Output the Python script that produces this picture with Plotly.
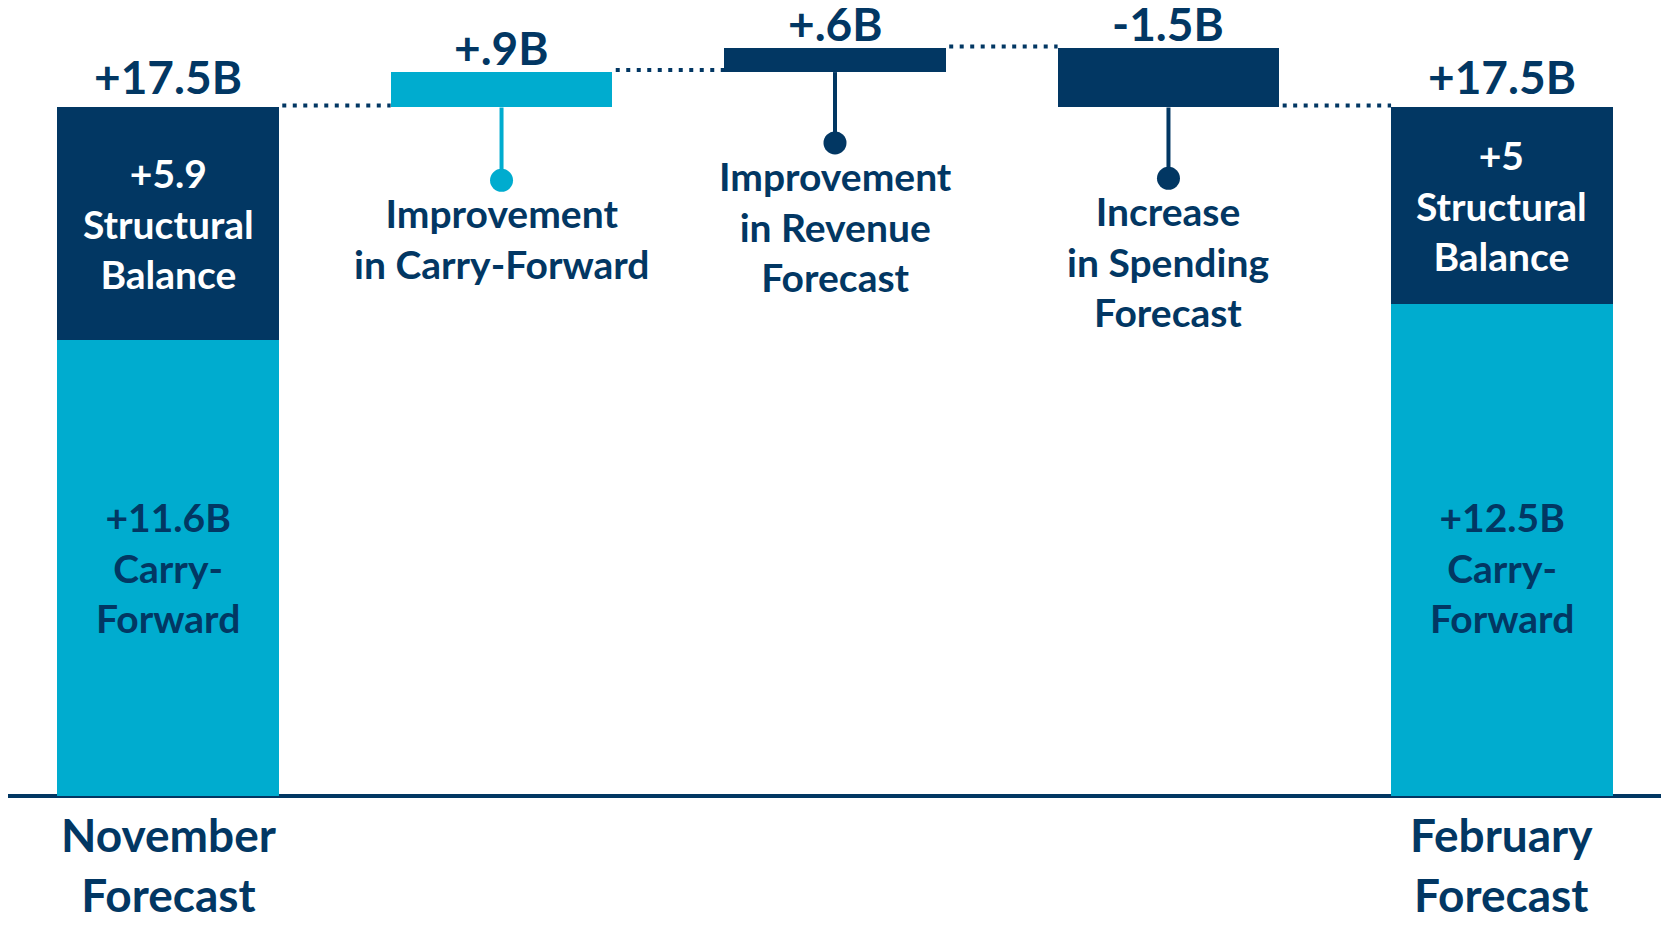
import plotly.graph_objects as go

# ---------------- data ----------------
totals_labels = ["November<br>Forecast", "February<br>Forecast"]
carry_forward = [11.6, 12.5]
structural = [5.9, 5.0]
total_text = ["+17.5B", "+17.5B"]
structural_text = ["+5.9<br>Structural<br>Balance", "+5<br>Structural<br>Balance"]
carry_text = ["+11.6B<br>Carry-<br>Forward", "+12.5B<br>Carry-<br>Forward"]

change_labels = ["Improvement<br>in Carry-Forward",
                 "Improvement<br>in Revenue<br>Forecast",
                 "Increase<br>in Spending<br>Forecast"]
changes = [0.9, 0.6, -1.5]
change_text = ["+.9B", "+.6B", "-1.5B"]

# ---------------- style ----------------
NAVY = "#023763"
CYAN = "#00ACCF"
FONT = "Lato"
change_colors = [CYAN, NAVY, NAVY]
stem_len = [1.85, 1.8, 1.8]
BAR_W = 0.665
BODY = 39
VAL = 46

total_x = [0, 4]
change_x = [1, 2, 3]

start = carry_forward[0] + structural[0]
bases = []
cur = start
for c in changes:
    bases.append(cur)
    cur += c

fig = go.Figure()

fig.add_trace(go.Bar(x=total_x, y=carry_forward, marker_color=CYAN, width=BAR_W,
                     marker_line_width=0, hoverinfo="skip"))
fig.add_trace(go.Bar(x=total_x, y=structural, base=carry_forward, marker_color=NAVY,
                     width=BAR_W, marker_line_width=0, hoverinfo="skip"))
fig.add_trace(go.Bar(x=change_x, y=changes, base=bases, marker_color=change_colors,
                     width=BAR_W, marker_line_width=0, hoverinfo="skip"))

# dotted connectors
levels = [start] + [b + c for b, c in zip(bases, changes)]
all_x = [0] + change_x + [4]
for i in range(len(all_x) - 1):
    lvl = levels[i] + 0.05
    fig.add_trace(go.Scatter(x=[all_x[i] + BAR_W / 2 + 0.01, all_x[i + 1] - BAR_W / 2],
                             y=[lvl, lvl], mode="lines",
                             line=dict(color=NAVY, width=4, dash="4px,6.5px"),
                             hoverinfo="skip"))

# stems with dots
for i, (x, b, c) in enumerate(zip(change_x, bases, changes)):
    bottom = min(b, b + c)
    fig.add_trace(go.Scatter(x=[x, x], y=[bottom, bottom - stem_len[i]], mode="lines",
                             line=dict(color=change_colors[i], width=4), hoverinfo="skip"))
    fig.add_trace(go.Scatter(x=[x], y=[bottom - stem_len[i]], mode="markers",
                             marker=dict(color=change_colors[i], size=23), hoverinfo="skip"))
    fig.add_annotation(x=x, y=bottom - stem_len[i], text=change_labels[i], showarrow=False,
                       yanchor="top", yshift=-8,
                       font=dict(family=FONT, size=BODY, color=NAVY, weight=700))
    fig.add_annotation(x=x, y=max(b, b + c), text=change_text[i], showarrow=False,
                       yanchor="bottom", yshift=-5,
                       font=dict(family=FONT, size=VAL, color=NAVY, weight=700))

# total bars text
for i, x in enumerate(total_x):
    top = carry_forward[i] + structural[i]
    fig.add_annotation(x=x, y=top, text=total_text[i], showarrow=False, yanchor="bottom",
                       yshift=1, font=dict(family=FONT, size=VAL, color=NAVY, weight=700))
    fig.add_annotation(x=x, y=carry_forward[i] + structural[i] / 2, text=structural_text[i],
                       showarrow=False, yanchor="middle",
                       font=dict(family=FONT, size=BODY, color="white", weight=700))
    fig.add_annotation(x=x, y=carry_forward[0] / 2, text=carry_text[i],
                       showarrow=False, yanchor="middle",
                       font=dict(family=FONT, size=BODY, color=NAVY, weight=700))
    fig.add_annotation(x=x, y=0, text=totals_labels[i], showarrow=False, yanchor="top",
                       yshift=-9, font=dict(family=FONT, size=46, color=NAVY, weight=700))

fig.update_layout(
    width=1653, height=909, margin=dict(l=0, r=0, t=0, b=0),
    paper_bgcolor="white", plot_bgcolor="white",
    barmode="overlay", showlegend=False, bargap=0,
    xaxis=dict(range=[-0.48, 4.477], showticklabels=False, showgrid=False, zeroline=False,
               fixedrange=True),
    yaxis=dict(range=[-3.077, 20.029], showticklabels=False, showgrid=False, zeroline=True,
               zerolinecolor=NAVY, zerolinewidth=4, fixedrange=True),
)

fig.write_html("out.html")
